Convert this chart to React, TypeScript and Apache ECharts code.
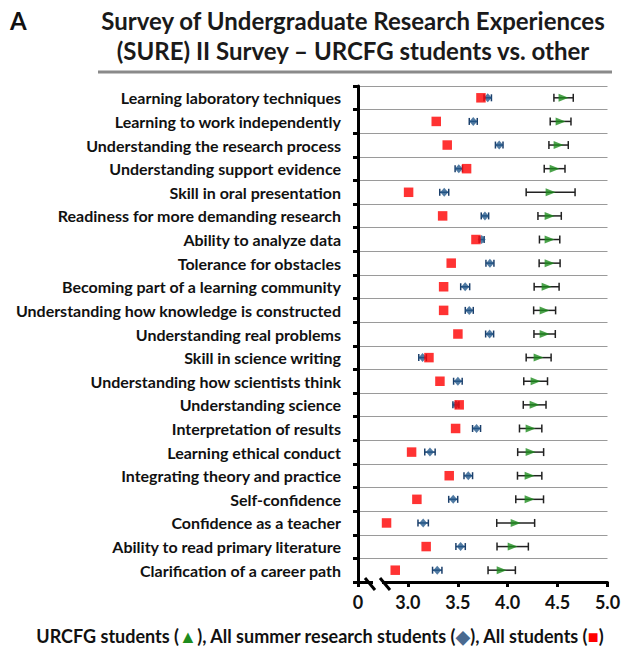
import React, { useEffect, useRef } from "react";
import * as echarts from "echarts";

const categories = [
  "Learning laboratory techniques",
  "Learning to work independently",
  "Understanding the research process",
  "Understanding support evidence",
  "Skill in oral presentation",
  "Readiness for more demanding research",
  "Ability to analyze data",
  "Tolerance for obstacles",
  "Becoming part of a learning community",
  "Understanding how knowledge is constructed",
  "Understanding real problems",
  "Skill in science writing",
  "Understanding how scientists think",
  "Understanding science",
  "Interpretation of results",
  "Learning ethical conduct",
  "Integrating theory and practice",
  "Self-confidence",
  "Confidence as a teacher",
  "Ability to read primary literature",
  "Clarification of a career path",
];

const urcfgMean = [4.56, 4.53, 4.51, 4.47, 4.43, 4.42, 4.42, 4.42, 4.39, 4.37, 4.37, 4.31, 4.28, 4.27, 4.23, 4.23, 4.22, 4.22, 4.08, 4.05, 3.94];
const urcfgErr = [0.097, 0.104, 0.097, 0.104, 0.245, 0.117, 0.102, 0.105, 0.125, 0.11, 0.107, 0.125, 0.119, 0.114, 0.112, 0.13, 0.122, 0.139, 0.19, 0.157, 0.137];
const summerMean = [3.8, 3.655, 3.915, 3.51, 3.364, 3.772, 3.739, 3.822, 3.574, 3.615, 3.819, 3.147, 3.501, 3.481, 3.688, 3.221, 3.605, 3.454, 3.153, 3.528, 3.294];
const summerErr = [0.037, 0.04, 0.038, 0.037, 0.045, 0.037, 0.025, 0.04, 0.045, 0.04, 0.04, 0.038, 0.043, 0.03, 0.04, 0.052, 0.043, 0.045, 0.052, 0.047, 0.047];
const allMean = [3.732, 3.284, 3.394, 3.588, 3.007, 3.348, 3.682, 3.434, 3.358, 3.358, 3.501, 3.211, 3.321, 3.514, 3.478, 3.037, 3.414, 3.09, 2.786, 3.183, 2.873];

const xTickValues = [2.5, 3.0, 3.5, 4.0, 4.5, 5.0];
const xTickLabels = ["0", "3.0", "3.5", "4.0", "4.5", "5.0"];

const FONT = "Lato, 'Open Sans', sans-serif";

function errorSeries(means: number[], errs: number[], color: string, capH: number, z: number) {
  return {
    type: "custom",
    z,
    silent: true,
    encode: { x: [1, 2], y: 0 },
    data: means.map((m, i) => [i, m - errs[i], m + errs[i]]),
    renderItem: (params: any, api: any) => {
      const idx = api.value(0);
      const lo = api.coord([api.value(1), idx]);
      const hi = api.coord([api.value(2), idx]);
      const h = capH / 2;
      const style = { stroke: color, lineWidth: 1.5 };
      return {
        type: "group",
        children: [
          { type: "line", shape: { x1: lo[0], y1: lo[1], x2: hi[0], y2: hi[1] }, style },
          { type: "line", shape: { x1: lo[0], y1: lo[1] - h, x2: lo[0], y2: lo[1] + h }, style },
          { type: "line", shape: { x1: hi[0], y1: hi[1] - h, x2: hi[0], y2: hi[1] + h }, style },
        ],
      };
    },
  };
}

export default function App() {
  const ref = useRef<HTMLDivElement>(null);
  useEffect(() => {
    if (!ref.current) return;
    const chart = echarts.init(ref.current, null, { renderer: "svg" });
    chart.setOption({
      animation: false,
      backgroundColor: "#ffffff",
      grid: { left: 358, right: 24.5, top: 86, bottom: 64, containLabel: false },
      xAxis: {
        type: "value",
        min: 2.5,
        max: 5.0,
        interval: 0.5,
        axisLine: { show: true, lineStyle: { color: "#000", width: 3 } },
        axisTick: { show: true, length: 5, lineStyle: { color: "#000", width: 3 } },
        splitLine: { show: false },
        axisLabel: {
          color: "#111",
          fontFamily: FONT,
          fontWeight: "bold",
          fontSize: 18,
          margin: 11,
          formatter: (v: number) => {
            const i = xTickValues.findIndex((t) => Math.abs(t - v) < 1e-6);
            return i >= 0 ? xTickLabels[i] : "";
          },
        },
      },
      yAxis: {
        type: "category",
        data: categories,
        inverse: true,
        axisLine: { show: true, lineStyle: { color: "#000", width: 3 } },
        axisTick: { show: true, length: 5, lineStyle: { color: "#000", width: 3 } },
        splitLine: { show: true, lineStyle: { color: "#9a9a9a", width: 1 } },
        axisLabel: {
          color: "#111",
          fontFamily: FONT,
          fontWeight: "bold",
          fontSize: 16,
          margin: 17,
          interval: 0,
        },
      },
      series: [
        errorSeries(urcfgMean, urcfgErr, "#222", 8, 2),
        {
          type: "scatter",
          z: 3,
          symbol: "triangle",
          symbolRotate: -90,
          symbolSize: [8, 10],
          itemStyle: { color: "#1e8c1e" },
          data: urcfgMean.map((m, i) => [m, i]),
        },
        errorSeries(summerMean, summerErr, "#1b3f6b", 7, 4),
        {
          type: "scatter",
          z: 5,
          symbol: "diamond",
          symbolSize: [8, 9],
          itemStyle: { color: "#265a8c" },
          data: summerMean.map((m, i) => [m, i]),
        },
        {
          type: "scatter",
          z: 6,
          symbol: "rect",
          symbolSize: 9.5,
          itemStyle: { color: "#ff0000" },
          data: allMean.map((m, i) => [m, i]),
        },
      ],
      graphic: [
        {
          type: "text",
          left: 10,
          top: 8,
          style: { text: "A", font: `bold 24px ${FONT}`, fill: "#111" },
        },
        {
          type: "text",
          x: 353,
          y: 35,
          style: {
            text: "Survey of Undergraduate Research Experiences\n(SURE) II Survey – URCFG students vs. other",
            font: `bold 24px ${FONT}`,
            fill: "#1a1a1a",
            textAlign: "center",
            textVerticalAlign: "middle",
            lineHeight: 30,
          },
        },
        {
          type: "line",
          shape: { x1: 98, y1: 72, x2: 612, y2: 72 },
          style: { stroke: "#8a8a8a", lineWidth: 3 },
        },
        {
          type: "rect",
          shape: { x: 373, y: 578, width: 9, height: 10 },
          style: { fill: "#fff" },
          z: 100,
        },
        {
          type: "line",
          shape: { x1: 365, y1: 578, x2: 375, y2: 590 },
          style: { stroke: "#000", lineWidth: 3 },
          z: 101,
        },
        {
          type: "line",
          shape: { x1: 380, y1: 578, x2: 390, y2: 590 },
          style: { stroke: "#000", lineWidth: 3 },
          z: 101,
        },
        {
          type: "text",
          x: 320,
          y: 636,
          style: {
            text: "{t|URCFG students (}{g|▲}{t|), All summer research students (}{b|◆}{t|), All students (}{r|■}{t|)}",
            textAlign: "center",
            textVerticalAlign: "middle",
            rich: {
              t: { font: `bold 18px ${FONT}`, fill: "#111", lineHeight: 22 },
              g: { font: `bold 18px ${FONT}`, fill: "#1e8c1e", lineHeight: 22 },
              b: { font: `bold 18px ${FONT}`, fill: "#4a6a90", lineHeight: 22 },
              r: { font: `bold 18px ${FONT}`, fill: "#ff0000", lineHeight: 22 },
            },
          },
        },
      ],
    });
    return () => chart.dispose();
  }, []);
  return <div ref={ref} style={{ width: 632, height: 646, position: "absolute", left: 0, top: 0 }} />;
}
